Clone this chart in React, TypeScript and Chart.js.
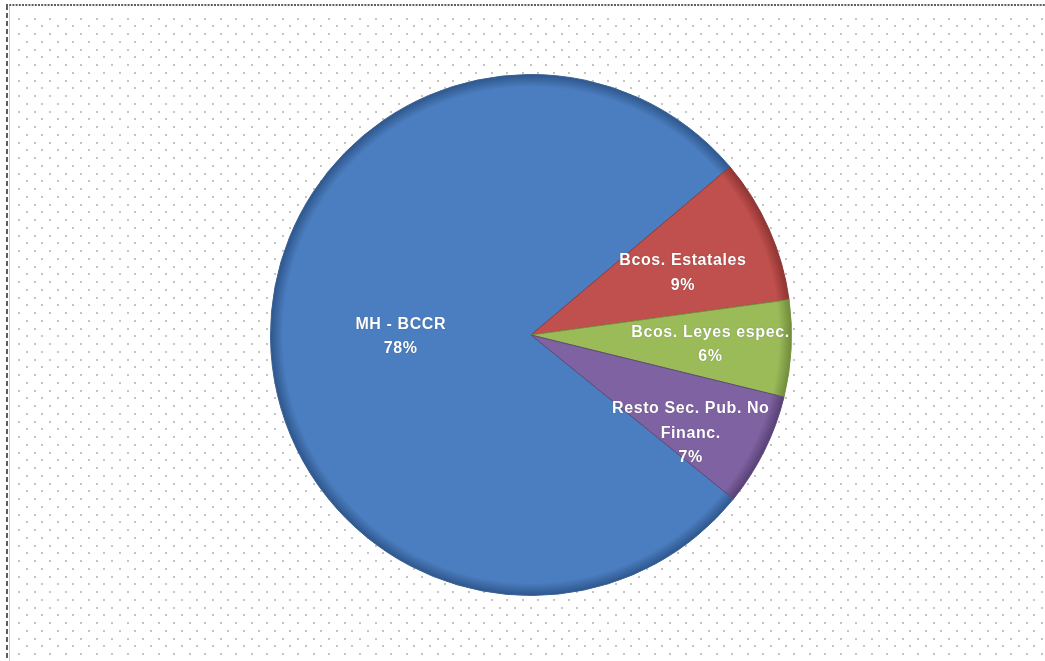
import React, { useEffect, useRef } from "react";
import { Chart, registerables } from "chart.js";

Chart.register(...registerables);

const categories = ["MH - BCCR", "Bcos. Estatales", "Bcos. Leyes espec.", "Resto Sec. Pub. No Financ."];
const labelLines = [["MH - BCCR"], ["Bcos. Estatales"], ["Bcos. Leyes espec."], ["Resto Sec. Pub. No", "Financ."]];
const shares = [78, 9, 6, 7];

const baseColors = ["#4b7ec0", "#c0504d", "#9bbb59", "#7f62a1"];
const rimColors = ["#2d5489", "#8c3331", "#6f8a3a", "#553f73"];
const borderColors = ["#3a6396", "#8f3b39", "#76903f", "#5e4a7a"];
const labelPlacement = [
  { frac: 0.5, da: 0 },
  { frac: 0.63, da: 1.8 },
  { frac: 0.69, da: 0 },
  { frac: 0.72, da: 5.2 },
];

const backgroundPlugin = {
  id: "bgDots",
  beforeDraw(chart: any) {
    const { ctx, width, height } = chart;
    ctx.save();
    ctx.fillStyle = "#ffffff";
    ctx.fillRect(0, 0, width, height);
    ctx.fillStyle = "#c4c4c4";
    const step = 7.75;
    let row = 0;
    for (let y = 17.5; y < height; y += step, row++) {
      const off = row % 2 === 0 ? 18 : 18 + step;
      for (let x = off; x < width; x += step * 2) {
        ctx.fillRect(Math.round(x), Math.round(y), 2, 2);
      }
    }
    ctx.strokeStyle = "#5e5e5e";
    ctx.lineWidth = 2;
    ctx.setLineDash([2, 1.2]);
    ctx.beginPath();
    ctx.moveTo(6, 5);
    ctx.lineTo(width, 5);
    ctx.stroke();
    ctx.setLineDash([5, 3]);
    ctx.lineWidth = 2;
    ctx.beginPath();
    ctx.moveTo(7, 5);
    ctx.lineTo(7, height);
    ctx.stroke();
    ctx.setLineDash([]);
    ctx.strokeStyle = "#c8c8c8";
    ctx.lineWidth = 1;
    ctx.beginPath();
    ctx.moveTo(9.5, 6);
    ctx.lineTo(9.5, height);
    ctx.stroke();
    ctx.restore();
  },
};

const labelPlugin = {
  id: "sliceLabels",
  afterDatasetsDraw(chart: any) {
    const { ctx } = chart;
    const meta = chart.getDatasetMeta(0);
    const total = shares.reduce((a, b) => a + b, 0);
    ctx.save();
    ctx.font = "bold 16px 'Liberation Sans', Arial, sans-serif";
    try {
      (ctx as any).letterSpacing = "0.6px";
    } catch (e) {}
    ctx.fillStyle = "#ffffff";
    ctx.textAlign = "center";
    ctx.textBaseline = "middle";
    ctx.shadowColor = "rgba(0,0,0,0.35)";
    ctx.shadowBlur = 1;
    meta.data.forEach((arc: any, i: number) => {
      const p = arc.getProps(["x", "y", "startAngle", "endAngle", "outerRadius"], true);
      const pl = labelPlacement[i];
      const mid = (p.startAngle + p.endAngle) / 2 + (pl.da * Math.PI) / 180;
      const r = p.outerRadius * pl.frac;
      const cx = p.x + Math.cos(mid) * r;
      const cy = p.y + Math.sin(mid) * r;
      const lines = [...labelLines[i], Math.round((shares[i] / total) * 100) + "%"];
      const lh = 24.5;
      const y0 = cy - ((lines.length - 1) * lh) / 2;
      lines.forEach((t, k) => ctx.fillText(t, cx, y0 + k * lh));
    });
    ctx.restore();
  },
};

export default function App() {
  const ref = useRef<HTMLCanvasElement | null>(null);
  useEffect(() => {
    if (!ref.current) return;
    const fill = (context: any) => {
      const i = context.dataIndex ?? 0;
      const chart = context.chart;
      const a = chart.chartArea;
      if (!a) return baseColors[i];
      const cx = (a.left + a.right) / 2;
      const cy = (a.top + a.bottom) / 2;
      const r = Math.min(a.right - a.left, a.bottom - a.top) / 2;
      const g = chart.ctx.createRadialGradient(cx, cy, 0, cx, cy, r);
      g.addColorStop(0, baseColors[i]);
      g.addColorStop(0.95, baseColors[i]);
      g.addColorStop(1, rimColors[i]);
      return g;
    };
    const chart = new Chart(ref.current, {
      type: "pie",
      data: {
        labels: categories,
        datasets: [
          {
            data: shares,
            backgroundColor: fill as any,
            borderColor: borderColors,
            borderWidth: 1,
          },
        ],
      },
      options: {
        responsive: false,
        animation: false,
        rotation: 129,
        layout: { padding: { left: 270, right: 253, top: 74, bottom: 65 } },
        plugins: {
          legend: { display: false },
          tooltip: { enabled: false },
          title: { display: false },
        },
      },
      plugins: [backgroundPlugin, labelPlugin],
    });
    return () => chart.destroy();
  }, []);
  return (
    <div style={{ position: "fixed", left: 0, top: 0, width: 1045, height: 661 }}>
      <canvas ref={ref} width={1045} height={661} style={{ display: "block" }} />
    </div>
  );
}
